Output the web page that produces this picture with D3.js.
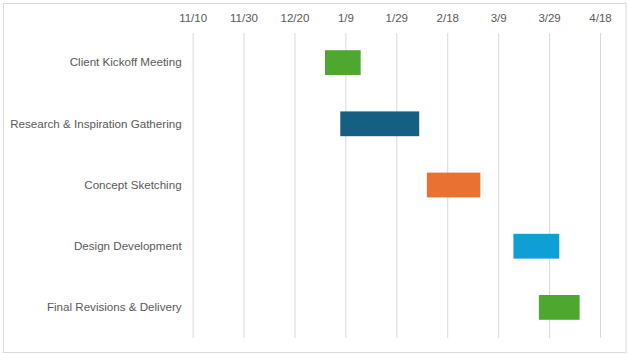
<!DOCTYPE html>
<html><head><meta charset="utf-8">
<script src="https://cdn.jsdelivr.net/npm/d3@7"></script>
<style>body{margin:0;background:#fff}svg{display:block}</style>
</head><body>
<script>
const tasks = ["Client Kickoff Meeting","Research & Inspiration Gathering","Concept Sketching","Design Development","Final Revisions & Delivery"];
const startDates = ["2024-01-01","2024-01-07","2024-02-10","2024-03-15","2024-03-25"];
const durations = [14,31,21,18,16];
const colors = ["#4ea72e","#156082","#e97132","#0f9ed5","#4ea72e"];
const tickDates = ["2023-11-10","2023-11-30","2023-12-20","2024-01-09","2024-01-29","2024-02-18","2024-03-09","2024-03-29","2024-04-18"];

const W=629,H=355;
const parse=d3.utcParse("%Y-%m-%d");
const svg=d3.select("body").append("svg").attr("width",W).attr("height",H);
svg.append("rect").attr("x",3.5).attr("y",3.5).attr("width",622.5).attr("height",349).attr("fill","#fff").attr("stroke","#d9d9d9");

const x=d3.scaleUtc().domain([parse(tickDates[0]),parse(tickDates[tickDates.length-1])]).range([192.6,600]);
const y=d3.scaleBand().domain(tasks).range([32,338]).padding(0);

const ax=d3.axisTop(x).tickValues(tickDates.map(parse)).tickFormat(d3.utcFormat("%-m/%-d")).tickSize(-(338-33)).tickPadding(13);
const g=svg.append("g").attr("transform","translate(0,33)").call(ax);
g.select(".domain").remove();
g.selectAll(".tick line").attr("stroke","#d9d9d9").attr("stroke-width",1);
g.selectAll(".tick text").attr("fill","#595959").attr("font-family","Liberation Sans, Arial, sans-serif").attr("font-size",11.5).attr("dy","0.2em");

const ay=d3.axisLeft(y).tickSize(0).tickPadding(11);
const gy=svg.append("g").attr("transform","translate(192.6,0)").call(ay);
gy.select(".domain").remove();
gy.selectAll(".tick text").attr("fill","#595959").attr("font-family","Liberation Sans, Arial, sans-serif").attr("font-size",11.6);

const bh=y.bandwidth()*0.405;
svg.append("g").selectAll("rect").data(tasks).join("rect")
  .attr("x",(d,i)=>x(parse(startDates[i])))
  .attr("width",(d,i)=>x(d3.utcDay.offset(parse(startDates[i]),durations[i]))-x(parse(startDates[i])))
  .attr("y",d=>y(d)+y.bandwidth()/2-bh/2)
  .attr("height",bh)
  .attr("fill",(d,i)=>colors[i]);
</script>
</body></html>
